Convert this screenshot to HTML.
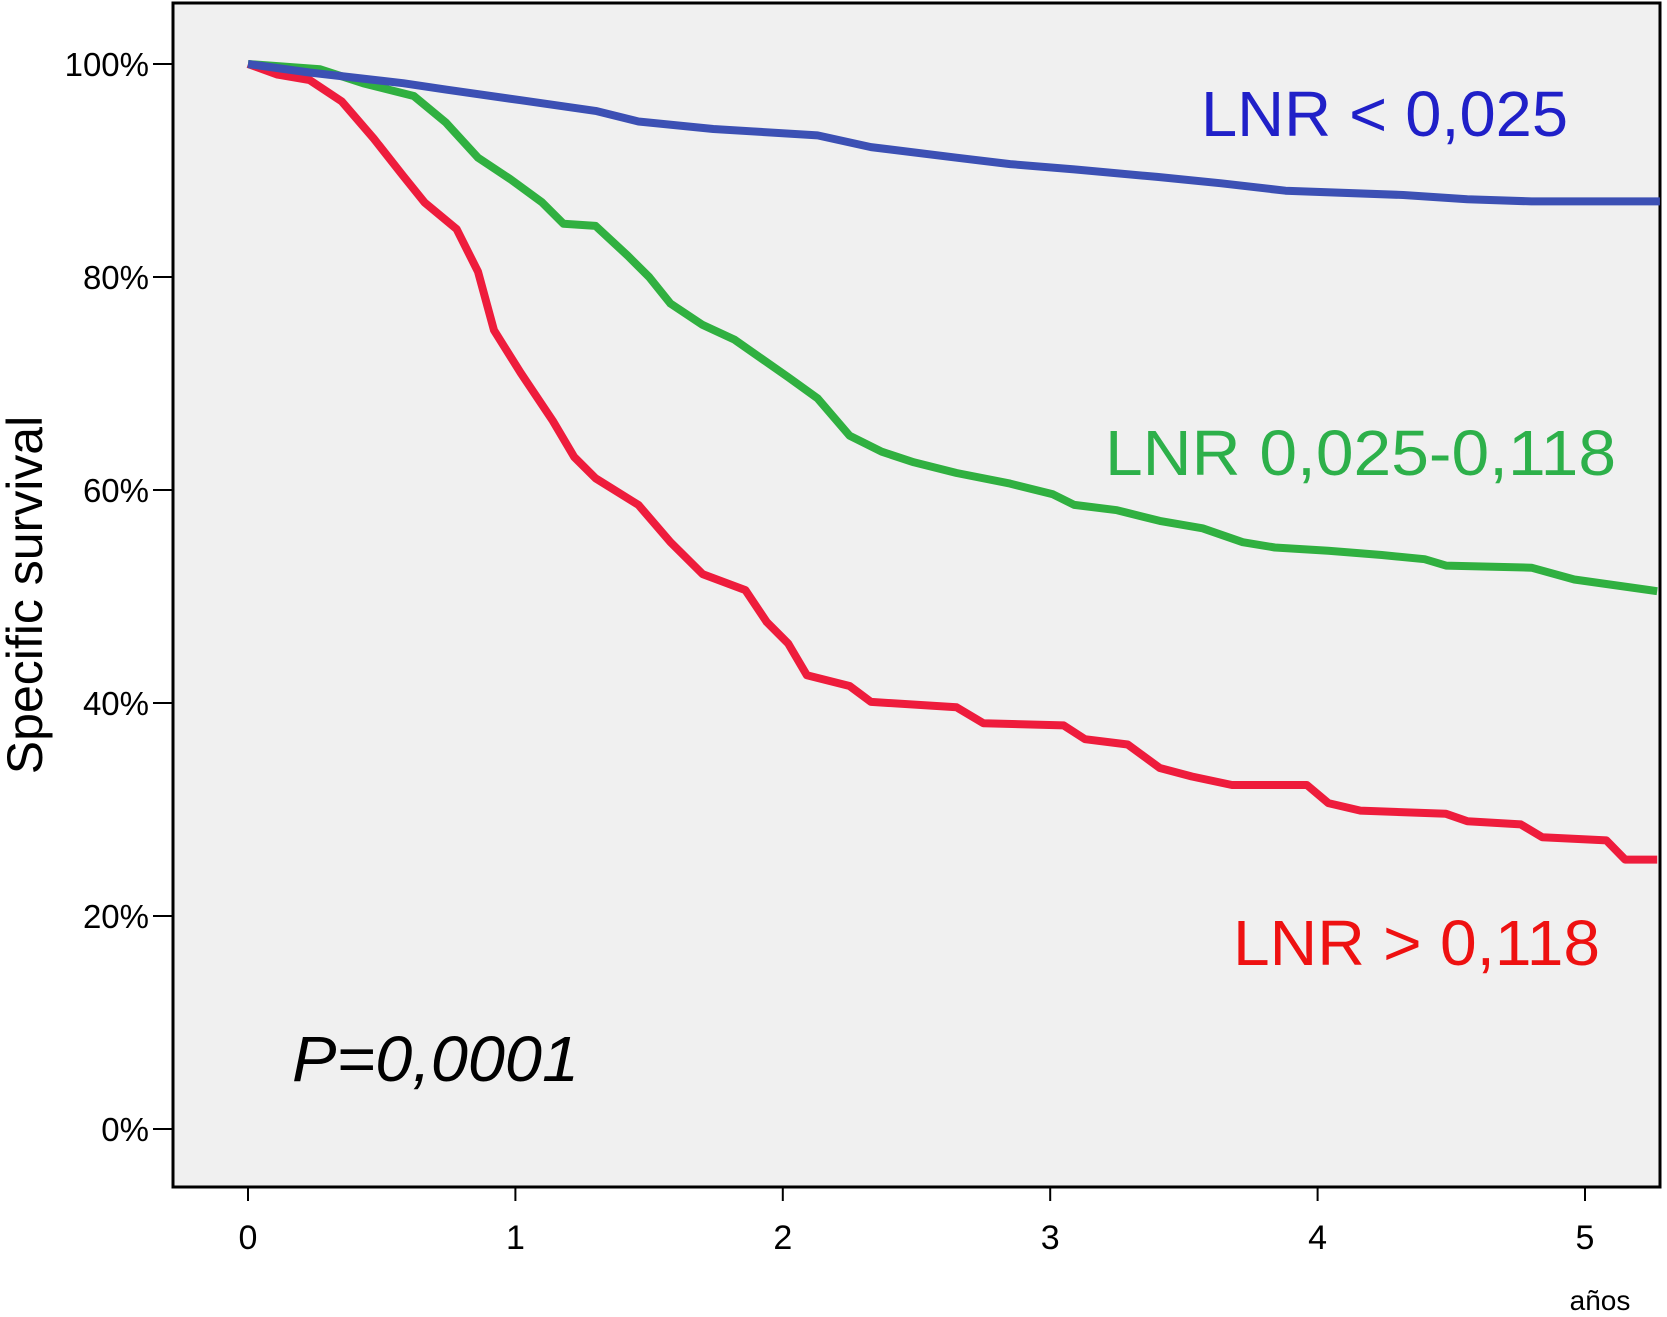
<!DOCTYPE html>
<html><head><meta charset="utf-8"><style>
html,body{margin:0;padding:0;background:#fff;}
svg{display:block;}
</style></head><body>
<svg id="chart" width="1667" height="1317" viewBox="0 0 1667 1317" font-family="Liberation Sans, sans-serif">
<rect x="173" y="3" width="1487" height="1184" fill="#f0f0f0" stroke="#000" stroke-width="3"/>
<g id="axes"></g>
<g id="series"></g>
<text transform="translate(42,595) rotate(-90)" text-anchor="middle" font-size="50" fill="#000">Specific survival</text>
<text x="1600" y="1310" text-anchor="middle" font-size="28" fill="#000">años</text>
<text x="1201" y="136" font-size="64" fill="#2020c8" textLength="367" lengthAdjust="spacingAndGlyphs">LNR &lt; 0,025</text>
<text x="1105" y="475" font-size="64" fill="#2db04a" textLength="511" lengthAdjust="spacingAndGlyphs">LNR 0,025-0,118</text>
<text x="1233" y="965" font-size="64" fill="#ee1111" textLength="367" lengthAdjust="spacingAndGlyphs">LNR &gt; 0,118</text>
<text x="292" y="1081" font-size="64" font-style="italic" fill="#000" textLength="287" lengthAdjust="spacingAndGlyphs">P=0,0001</text>
</svg>
<script>
const xTicks=[0,1,2,3,4,5];
const yTicks=[0,20,40,60,80,100];
const yTickLabels=["0%","20%","40%","60%","80%","100%"];
const blueT=[0,0.23,0.58,0.74,1.02,1.3,1.46,1.74,2.13,2.33,2.65,2.85,3.09,3.4,3.64,3.88,4.32,4.56,4.8,5.28];
const blueS=[100,99.2,98.2,97.6,96.6,95.6,94.6,93.9,93.3,92.2,91.2,90.6,90.1,89.4,88.8,88.1,87.7,87.3,87.1,87.1];
const greenT=[0,0.27,0.43,0.62,0.74,0.86,0.98,1.10,1.18,1.30,1.42,1.50,1.58,1.70,1.82,2.02,2.13,2.25,2.37,2.49,2.65,2.85,3.01,3.09,3.25,3.41,3.57,3.72,3.84,4.04,4.24,4.40,4.48,4.80,4.96,5.27];
const greenS=[100,99.5,98.2,97.0,94.5,91.2,89.2,87.0,85.0,84.8,82.0,80.0,77.5,75.5,74.1,70.6,68.6,65.1,63.6,62.6,61.6,60.6,59.6,58.6,58.1,57.1,56.4,55.1,54.6,54.3,53.9,53.5,52.9,52.7,51.6,50.5];
const redT=[0,0.11,0.23,0.35,0.47,0.58,0.66,0.78,0.86,0.92,1.02,1.14,1.22,1.30,1.46,1.58,1.70,1.86,1.94,2.02,2.09,2.25,2.33,2.65,2.75,3.05,3.13,3.29,3.41,3.53,3.68,3.96,4.04,4.16,4.48,4.56,4.76,4.84,5.08,5.15,5.27];
const redS=[100,99.0,98.5,96.5,93.0,89.5,87.0,84.5,80.5,75.0,71.0,66.5,63.1,61.1,58.6,55.1,52.1,50.6,47.6,45.6,42.6,41.6,40.1,39.6,38.1,37.9,36.6,36.1,33.9,33.1,32.3,32.3,30.6,29.9,29.6,28.9,28.6,27.4,27.1,25.3,25.3];

const NS='http://www.w3.org/2000/svg';
const xs=t=>248+t*267.4;
const ys=v=>1129-v*10.65;
const axes=document.getElementById('axes');
const series=document.getElementById('series');
function mk(tag,attrs,parent){const e=document.createElementNS(NS,tag);for(const k in attrs)e.setAttribute(k,attrs[k]);parent.appendChild(e);return e;}
xTicks.forEach(t=>{
  const l=mk('line',{x1:xs(t),x2:xs(t),y1:1187,y2:1201,stroke:'#000','stroke-width':2},axes);
  
  
  const tx=mk('text',{x:xs(t),y:1249,'text-anchor':'middle','font-size':34,fill:'#000'},axes);
  tx.textContent=String(t);
  
  
});
yTicks.forEach((v,i)=>{
  const l=mk('line',{x1:153,x2:173,y1:ys(v),y2:ys(v),stroke:'#000','stroke-width':2},axes);
  
  
  const tx=mk('text',{x:149,y:ys(v)+12,'text-anchor':'end','font-size':33,fill:'#000'},axes);
  tx.textContent=yTickLabels[i];
  
  
});
function curve(T,S,color,name){
  const pts=T.map((t,i)=>xs(Math.min(t,5.28)).toFixed(1)+','+ys(S[i]).toFixed(1)).join(' ');
  const p=mk('polyline',{points:pts,fill:'none',stroke:color,'stroke-width':8,'stroke-linejoin':'round'},series);
  
  
}
curve(redT,redS,'#ee1c3c','survival-curve-high');
curve(greenT,greenS,'#30b040','survival-curve-mid');
curve(blueT,blueS,'#3c50b4','survival-curve-low');
</script>
</body></html>
